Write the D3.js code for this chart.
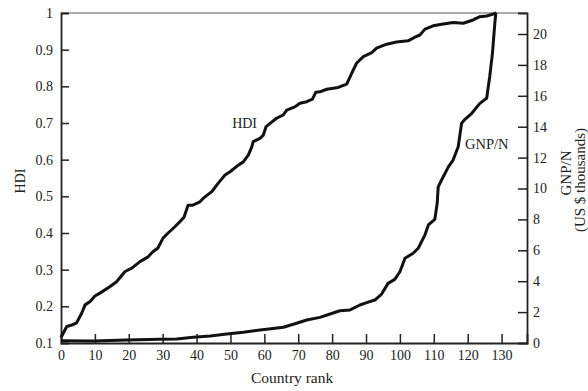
<!DOCTYPE html>
<html>
<head>
<meta charset="utf-8">
<script src="https://cdn.jsdelivr.net/npm/d3@7"></script>
<style>
  body { margin: 0; background: #fff; }
  text { font-family: "Liberation Serif", "DejaVu Serif", serif; fill: #222; }
</style>
</head>
<body>
<div id="chart"></div>
<script>
// country rank (x) and values
const hdiRank = [0, 1.7, 3.2, 4.6, 6.1, 7.1, 8.6, 10, 11.5, 14.5, 16.4, 18.9, 20.9, 23.3, 25.7, 27.1, 28.6, 30.1, 31.6, 33.6, 35.1, 36.3, 37.5, 38.9, 41, 42, 44.5, 46.4, 48.4, 49.9, 52.3, 53.8, 55.3, 56.3, 56.7, 58.7, 59.7, 60.5, 61.7, 63.6, 65.6, 66.6, 69, 70.5, 72.5, 74.2, 75.2, 76.4, 78.4, 81.8, 84.3, 85.8, 87.2, 89.2, 91.7, 93.1, 96.1, 99, 102.4, 104.4, 105.9, 107.4, 109.8, 112.8, 115.7, 118.7, 121.6, 123.6, 125.6, 127.5, 128.5];
const hdiValue = [0.115, 0.145, 0.149, 0.155, 0.181, 0.204, 0.213, 0.228, 0.236, 0.254, 0.267, 0.295, 0.304, 0.322, 0.335, 0.349, 0.359, 0.386, 0.4, 0.417, 0.431, 0.443, 0.476, 0.476, 0.485, 0.495, 0.513, 0.536, 0.558, 0.567, 0.585, 0.594, 0.613, 0.635, 0.649, 0.658, 0.667, 0.69, 0.699, 0.713, 0.722, 0.735, 0.744, 0.754, 0.758, 0.765, 0.784, 0.785, 0.792, 0.797, 0.806, 0.836, 0.863, 0.881, 0.892, 0.904, 0.915, 0.921, 0.924, 0.934, 0.94, 0.956, 0.965, 0.97, 0.974, 0.972, 0.981, 0.99, 0.992, 0.997, 1.0];

const gnpRank = [0, 9.5, 19.4, 29.2, 34.1, 39, 44, 48.9, 53.8, 58.7, 60.7, 65.6, 69.5, 72.5, 76.4, 79.4, 82.3, 85.3, 88.2, 90.2, 92.6, 94.6, 96.5, 98.5, 100, 101.5, 103.9, 105.4, 107.4, 108.4, 110.3, 111, 111.3, 112.3, 114.3, 115.7, 117.2, 118.2, 119.2, 121.2, 123.6, 125.6, 126.5, 127.3, 128, 128.3];
const gnpValue = [0.15, 0.13, 0.19, 0.24, 0.26, 0.37, 0.45, 0.58, 0.69, 0.84, 0.89, 1.02, 1.28, 1.49, 1.66, 1.88, 2.09, 2.14, 2.46, 2.61, 2.78, 3.17, 3.86, 4.12, 4.61, 5.48, 5.81, 6.13, 7.0, 7.64, 8.0, 9.04, 10.1, 10.55, 11.4, 11.84, 12.7, 14.22, 14.48, 14.87, 15.51, 15.84, 17.24, 18.75, 20.69, 21.36];

const rankTicks = [0, 10, 20, 30, 40, 50, 60, 70, 80, 90, 100, 110, 120, 130];
const hdiTicks = [0.1, 0.2, 0.3, 0.4, 0.5, 0.6, 0.7, 0.8, 0.9, 1];
const gnpTicks = [0, 2, 4, 6, 8, 10, 12, 14, 16, 18, 20];

const margin = {top: 13, right: 61, bottom: 48, left: 61};
const width = 588 - margin.left - margin.right,
      height = 391 - margin.top - margin.bottom;

var svg = d3.select("#chart").append("svg")
    .attr("width", 588)
    .attr("height", 391)
  .append("g")
    .attr("transform", "translate(" + margin.left + "," + margin.top + ")");

var x = d3.scaleLinear().domain([0, 137.5]).range([0, width]);
var yHdi = d3.scaleLinear().domain([0.1, 1]).range([height, 0]);
var yGnp = d3.scaleLinear().domain([0, 21.36]).range([height, 0]);

// top frame line
svg.append("line")
    .attr("x1", 0).attr("x2", width)
    .attr("y1", 0).attr("y2", 0)
    .attr("stroke", "#555").attr("stroke-width", 1.2);

var xAxis = svg.append("g")
    .attr("transform", "translate(0," + height + ")")
    .call(d3.axisTop(x).tickValues(rankTicks).tickSize(9).tickFormat(d3.format("d")));
xAxis.selectAll(".tick line").filter(d => d === 0).remove();
xAxis.selectAll(".tick text")
    .attr("y", 17).attr("dy", 0);

var leftAxis = svg.append("g")
    .call(d3.axisRight(yHdi).tickValues(hdiTicks).tickSize(8).tickFormat(d => d === 1 ? "1" : d3.format(".1f")(d)));
leftAxis.selectAll(".tick line").filter(d => d === 0.1 || d === 1).remove();
leftAxis.selectAll(".tick text").attr("x", -8).attr("text-anchor", "end");

var rightAxis = svg.append("g")
    .attr("transform", "translate(" + width + ",0)")
    .call(d3.axisLeft(yGnp).tickValues(gnpTicks).tickSize(9).tickFormat(d3.format("d")));
rightAxis.selectAll(".tick line").filter(d => d === 0).remove();
rightAxis.selectAll(".tick text").attr("x", 6).attr("text-anchor", "start");

svg.selectAll(".domain").attr("stroke", "#222").attr("stroke-width", 1.8);
svg.selectAll(".tick line").attr("stroke", "#222").attr("stroke-width", 1.5);
svg.selectAll(".tick text").style("font-size", "14px").attr("fill", "#222");

const hdiLine = d3.line()
    .x((d, i) => x(hdiRank[i]))
    .y(d => yHdi(d));

const gnpLine = d3.line()
    .x((d, i) => x(gnpRank[i]))
    .y(d => yGnp(d));

svg.append("path")
    .datum(hdiValue)
    .attr("fill", "none")
    .attr("stroke", "#111")
    .attr("stroke-width", 3)
    .attr("stroke-linejoin", "round")
    .attr("d", hdiLine);

svg.append("path")
    .datum(gnpValue)
    .attr("fill", "none")
    .attr("stroke", "#111")
    .attr("stroke-width", 3)
    .attr("stroke-linejoin", "round")
    .attr("d", gnpLine);

// curve labels
svg.append("text")
    .attr("x", x(50.5))
    .attr("y", yHdi(0.7) + 5)
    .style("font-size", "14px")
    .text("HDI");

svg.append("text")
    .attr("x", x(119.2))
    .attr("y", yGnp(12.9) + 5)
    .style("font-size", "14.5px")
    .text("GNP/N");

// axis titles
svg.append("text")
    .attr("text-anchor", "middle")
    .attr("x", x(68.2))
    .attr("y", height + 40)
    .style("font-size", "15.5px")
    .text("Country rank");

svg.append("text")
    .attr("text-anchor", "middle")
    .attr("transform", "translate(" + (-36) + "," + (yHdi(0.55) + 3) + ") rotate(-90)")
    .style("font-size", "14px")
    .text("HDI");

svg.append("text")
    .attr("text-anchor", "middle")
    .attr("transform", "translate(" + (width + 44) + "," + 160 + ") rotate(-90)")
    .style("font-size", "15px")
    .text("GNP/N");

svg.append("text")
    .attr("text-anchor", "middle")
    .attr("transform", "translate(" + (width + 58) + "," + 167 + ") rotate(-90)")
    .style("font-size", "15px")
    .text("(US $ thousands)");
</script>
</body>
</html>
